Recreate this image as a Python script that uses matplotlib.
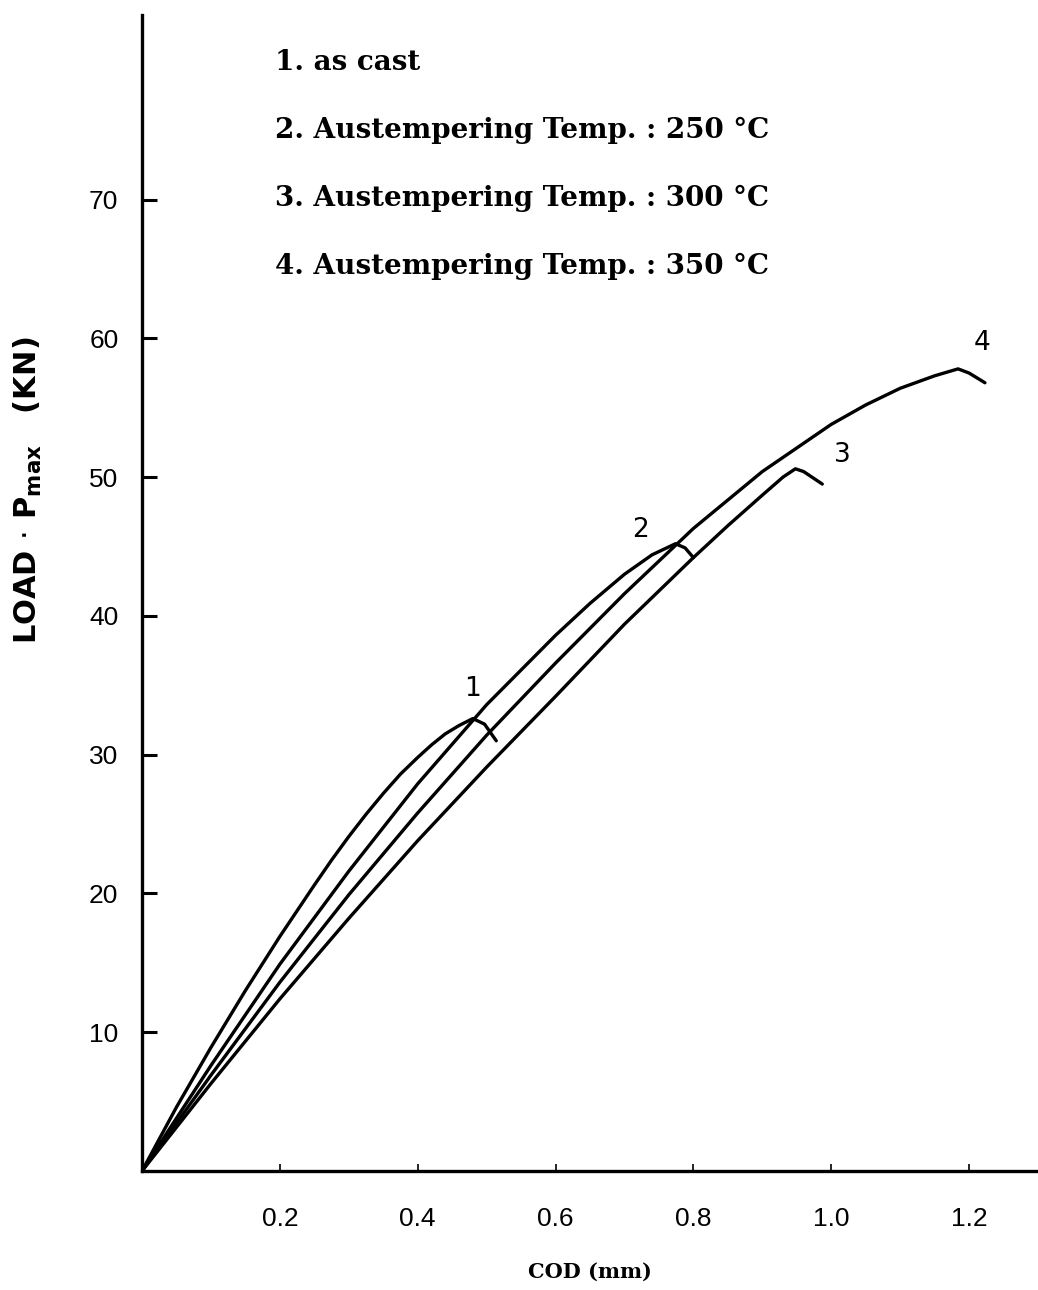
import matplotlib
matplotlib.use("Agg")
import matplotlib.pyplot as plt

# ---- data ----
x1 = [0, 0.05, 0.10, 0.15, 0.20, 0.25, 0.275, 0.30, 0.325, 0.35, 0.375, 0.40, 0.42, 0.44, 0.46, 0.48, 0.497, 0.514]
y1 = [0, 4.6, 8.9, 13.0, 16.9, 20.6, 22.4, 24.1, 25.7, 27.2, 28.6, 29.8, 30.7, 31.5, 32.1, 32.6, 32.2, 31.0]

x2 = [0, 0.1, 0.2, 0.3, 0.4, 0.5, 0.6, 0.65, 0.70, 0.74, 0.774, 0.788, 0.80]
y2 = [0, 7.6, 14.9, 21.6, 27.9, 33.6, 38.6, 40.9, 43.0, 44.4, 45.2, 44.9, 44.2]

x3 = [0, 0.1, 0.2, 0.3, 0.4, 0.5, 0.6, 0.7, 0.8, 0.85, 0.9, 0.93, 0.948, 0.96, 0.987]
y3 = [0, 6.3, 12.4, 18.2, 23.8, 29.1, 34.2, 39.4, 44.2, 46.5, 48.7, 50.0, 50.6, 50.4, 49.5]

x4 = [0, 0.1, 0.2, 0.3, 0.4, 0.5, 0.6, 0.7, 0.8, 0.9, 1.0, 1.05, 1.1, 1.15, 1.184, 1.20, 1.223]
y4 = [0, 6.9, 13.6, 19.9, 25.8, 31.4, 36.6, 41.6, 46.3, 50.4, 53.8, 55.2, 56.4, 57.3, 57.8, 57.5, 56.8]

curve_labels = ["1", "2", "3", "4"]
label_pos_x = [0.479, 0.723, 1.016, 1.219]
label_pos_y = [34.7, 46.2, 51.6, 59.7]

legend_lines = ["1. as cast",
                "2. Austempering Temp. : 250 °C",
                "3. Austempering Temp. : 300 °C",
                "4. Austempering Temp. : 350 °C"]

xticks = [0.2, 0.4, 0.6, 0.8, 1.0, 1.2]
xticklabels = ["0.2", "0.4", "0.6", "0.8", "1.0", "1.2"]
yticks = [10, 20, 30, 40, 50, 60, 70]
yticklabels = ["10", "20", "30", "40", "50", "60", "70"]

# ---- figure ----
fig = plt.figure(figsize=(10.38, 12.90), dpi=100)
ax = fig.add_axes([142/1038, (1290-1171)/1290, 1 - 142/1038, (1171-15)/1290])
ax.set_xlim(0, 1.30)
ax.set_ylim(0, 83.3)

lw = 2.4
for xs, ys in [(x1, y1), (x2, y2), (x3, y3), (x4, y4)]:
    ax.plot(xs, ys, color="black", lw=lw, solid_joinstyle="round", solid_capstyle="round")

for t, lx, ly in zip(curve_labels, label_pos_x, label_pos_y):
    ax.text(lx, ly, t, fontsize=19, ha="center", va="center", family="DejaVu Sans")

for spine in ["top", "right"]:
    ax.spines[spine].set_visible(False)
for spine in ["left", "bottom"]:
    ax.spines[spine].set_linewidth(2.4)

ax.set_xticks(xticks)
ax.set_xticklabels(xticklabels)
ax.set_yticks(yticks)
ax.set_yticklabels(yticklabels)
ax.tick_params(axis="y", direction="in", length=11, width=2.2, pad=17, labelsize=19)
ax.tick_params(axis="x", direction="in", length=5, width=1.2, pad=26, labelsize=19)
for lab in ax.get_xticklabels() + ax.get_yticklabels():
    lab.set_family("Liberation Sans")

# legend-like text block
ytxt = [62, 130, 198, 266]
for s, yp in zip(legend_lines, ytxt):
    fig.text(275/1038, 1 - yp/1290, s, fontsize=20, family="DejaVu Serif",
             ha="left", va="center", fontweight="bold")

fig.text(590/1038, 1 - 1272/1290, "COD (mm)", fontsize=15, family="DejaVu Serif",
         ha="center", va="center", fontweight="bold")
fig.text(28/1038, 1 - 490/1290, r"LOAD $\cdot$ P$_{\mathbf{max}}$   (KN)", fontsize=22,
         family="DejaVu Sans", fontweight="bold", rotation=90, ha="center", va="center")

fig.savefig("out.png", dpi=100)
